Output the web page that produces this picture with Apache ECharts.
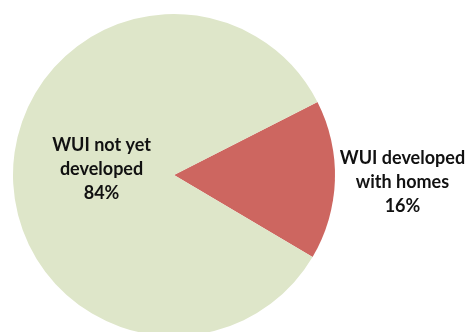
<!DOCTYPE html>
<html><head><meta charset="utf-8">
<script src="https://cdn.jsdelivr.net/npm/echarts@6/dist/echarts.min.js"></script>
<style>html,body{margin:0;padding:0;background:#fff}#c{width:467px;height:332px}</style>
</head><body><div id="c"></div>
<script>
const categories = ["WUI developed\nwith homes", "WUI not yet\ndeveloped"];
const values = [16, 84];
const colors = ["#CD6660", "#DEE6C9"];
const labelOffsets = [[145, 5], [11, -3]];

const chart = echarts.init(document.getElementById('c'));
chart.setOption({
  animation: false,
  series: [{
    type: 'pie',
    center: [174, 175],
    radius: 161,
    startAngle: 27,
    clockwise: true,
    avoidLabelOverlap: false,
    labelLine: { show: false },
    itemStyle: { borderWidth: 0 },
    emphasis: { disabled: true },
    data: categories.map((c, i) => ({
      name: c, value: values[i],
      itemStyle: { color: colors[i] },
      label: { offset: labelOffsets[i] }
    })),
    label: {
      show: true,
      position: 'inside',
      formatter: p => p.name + '\n' + p.value + '%',
      fontFamily: 'Lato',
      fontWeight: 'bold',
      fontSize: 18,
      lineHeight: 24,
      color: '#111',
      align: 'center'
    }
  }]
});
</script></body></html>
